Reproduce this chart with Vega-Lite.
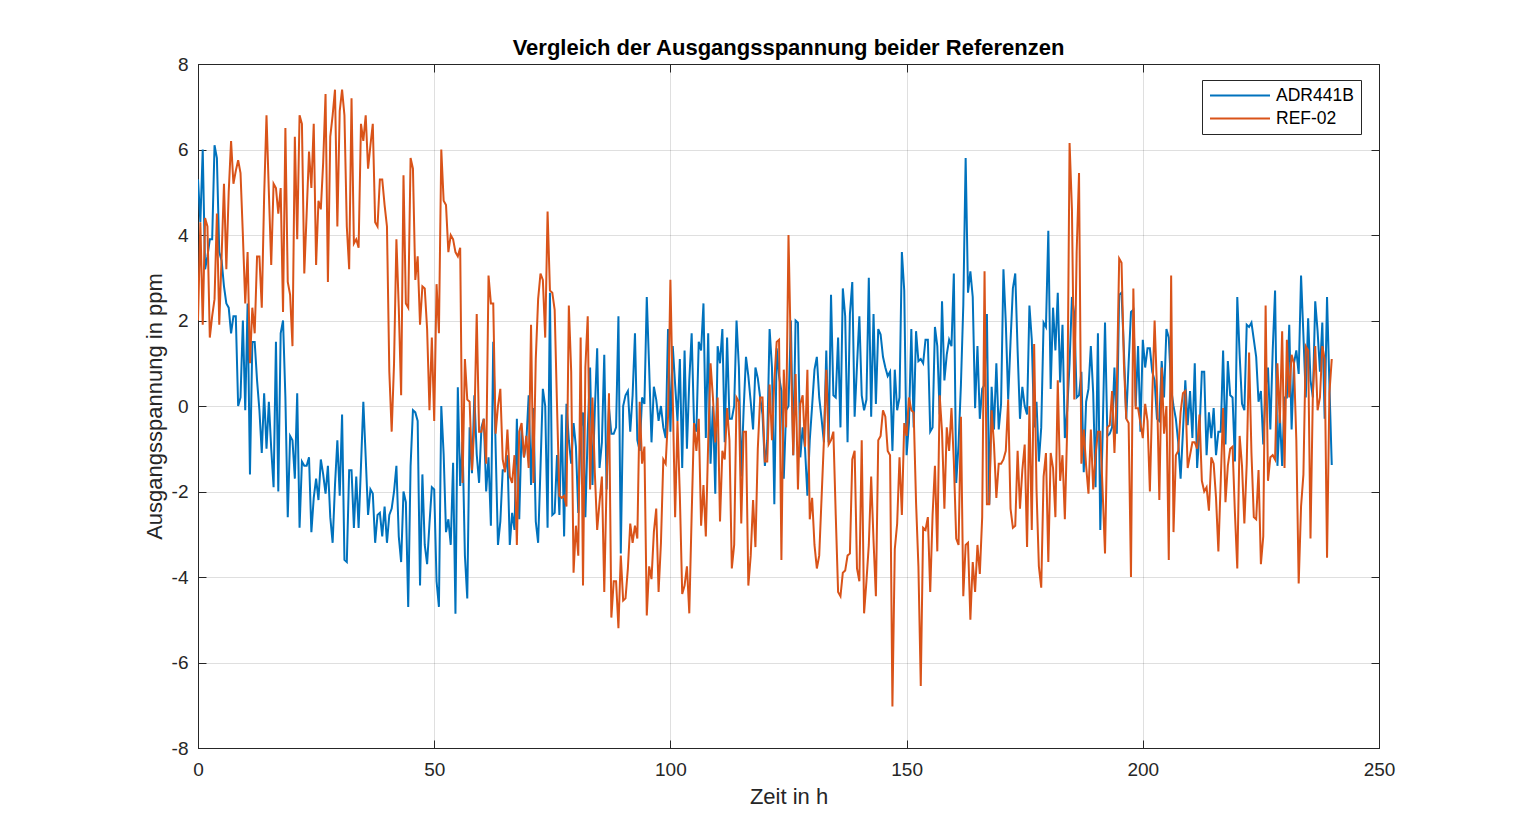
{
"$schema": "https://vega.github.io/schema/vega-lite/v6.json",
"width": 1181, "height": 684,
"autosize": {"type": "none"},
"padding": {"left": 198, "top": 64, "right": 145, "bottom": 92},
"background": "white",
"title": {"text": "Vergleich der Ausgangsspannung beider Referenzen", "font": "Liberation Sans", "fontSize": 22, "fontWeight": "bold", "color": "#000000", "offset": -5, "frame": "group", "anchor": "middle"},
"config": {"view": {"stroke": "#262626", "strokeWidth": 1}, "font": "Liberation Sans"},
"data": {"values": [
{"t":0,"ADR441B":5.3,"REF-02":2.0},{"t":0.5,"ADR441B":4.3,"REF-02":4.3},{"t":1,"ADR441B":6.0,"REF-02":1.9},{"t":1.5,"ADR441B":3.2,"REF-02":4.4},{"t":2,"ADR441B":3.5,"REF-02":4.2},{"t":2.5,"ADR441B":3.9,"REF-02":1.6},{"t":3,"ADR441B":3.9,"REF-02":2.1},{"t":3.5,"ADR441B":6.1,"REF-02":2.5},{"t":4,"ADR441B":5.8,"REF-02":4.5},{"t":4.5,"ADR441B":3.6,"REF-02":1.9},
{"t":5,"ADR441B":3.4,"REF-02":3.5},{"t":5.5,"ADR441B":2.8,"REF-02":5.2},{"t":6,"ADR441B":2.4,"REF-02":3.2},{"t":6.5,"ADR441B":2.3,"REF-02":5.0},{"t":7,"ADR441B":1.7,"REF-02":6.2},{"t":7.5,"ADR441B":2.1,"REF-02":5.2},{"t":8,"ADR441B":2.1,"REF-02":5.5},{"t":8.5,"ADR441B":0.0,"REF-02":5.75},{"t":9,"ADR441B":0.2,"REF-02":5.45},{"t":9.5,"ADR441B":2.0,"REF-02":4.0},
{"t":10,"ADR441B":-0.1,"REF-02":2.4},{"t":10.5,"ADR441B":2.4,"REF-02":3.6},{"t":11,"ADR441B":-1.6,"REF-02":1.0},{"t":11.5,"ADR441B":1.5,"REF-02":2.3},{"t":12,"ADR441B":1.5,"REF-02":1.7},{"t":12.5,"ADR441B":0.6,"REF-02":3.5},{"t":13,"ADR441B":-0.1,"REF-02":3.5},{"t":13.5,"ADR441B":-1.1,"REF-02":2.3},{"t":14,"ADR441B":0.3,"REF-02":4.9},{"t":14.5,"ADR441B":-1.0,"REF-02":6.8},
{"t":15,"ADR441B":0.1,"REF-02":5.0},{"t":15.5,"ADR441B":-1.0,"REF-02":3.3},{"t":16,"ADR441B":-1.9,"REF-02":5.2},{"t":16.5,"ADR441B":1.5,"REF-02":5.1},{"t":17,"ADR441B":-2.0,"REF-02":4.5},{"t":17.5,"ADR441B":1.7,"REF-02":5.1},{"t":18,"ADR441B":2.0,"REF-02":2.2},{"t":18.5,"ADR441B":0.2,"REF-02":6.5},{"t":19,"ADR441B":-2.6,"REF-02":2.9},{"t":19.5,"ADR441B":-0.7,"REF-02":2.6},
{"t":20,"ADR441B":-0.8,"REF-02":1.4},{"t":20.5,"ADR441B":-1.7,"REF-02":6.3},{"t":21,"ADR441B":0.3,"REF-02":3.9},{"t":21.5,"ADR441B":-2.85,"REF-02":6.8},{"t":22,"ADR441B":-1.3,"REF-02":6.6},{"t":22.5,"ADR441B":-1.4,"REF-02":3.1},{"t":23,"ADR441B":-1.4,"REF-02":4.5},{"t":23.5,"ADR441B":-1.2,"REF-02":5.95},{"t":24,"ADR441B":-2.95,"REF-02":5.1},{"t":24.5,"ADR441B":-2.15,"REF-02":6.6},
{"t":25,"ADR441B":-1.7,"REF-02":3.3},{"t":25.5,"ADR441B":-2.2,"REF-02":4.8},{"t":26,"ADR441B":-1.25,"REF-02":4.6},{"t":26.5,"ADR441B":-1.6,"REF-02":5.7},{"t":27,"ADR441B":-2.05,"REF-02":7.3},{"t":27.5,"ADR441B":-1.4,"REF-02":2.9},{"t":28,"ADR441B":-2.6,"REF-02":6.3},{"t":28.5,"ADR441B":-3.2,"REF-02":6.8},{"t":29,"ADR441B":-1.85,"REF-02":7.4},{"t":29.5,"ADR441B":-0.8,"REF-02":4.2},
{"t":30,"ADR441B":-2.1,"REF-02":6.9},{"t":30.5,"ADR441B":-0.2,"REF-02":7.4},{"t":31,"ADR441B":-3.6,"REF-02":6.8},{"t":31.5,"ADR441B":-3.65,"REF-02":4.2},{"t":32,"ADR441B":-1.5,"REF-02":3.2},{"t":32.5,"ADR441B":-1.5,"REF-02":7.2},{"t":33,"ADR441B":-2.85,"REF-02":3.8},{"t":33.5,"ADR441B":-1.65,"REF-02":3.9},{"t":34,"ADR441B":-2.85,"REF-02":3.7},{"t":34.5,"ADR441B":-1.4,"REF-02":6.6},
{"t":35,"ADR441B":0.1,"REF-02":6.2},{"t":35.5,"ADR441B":-1.2,"REF-02":6.8},{"t":36,"ADR441B":-2.55,"REF-02":5.55},{"t":36.5,"ADR441B":-1.95,"REF-02":6.1},{"t":37,"ADR441B":-2.05,"REF-02":6.6},{"t":37.5,"ADR441B":-3.2,"REF-02":4.3},{"t":38,"ADR441B":-2.55,"REF-02":4.2},{"t":38.5,"ADR441B":-2.5,"REF-02":5.3},{"t":39,"ADR441B":-3.05,"REF-02":5.3},{"t":39.5,"ADR441B":-2.35,"REF-02":4.7},
{"t":40,"ADR441B":-3.2,"REF-02":4.2},{"t":40.5,"ADR441B":-2.55,"REF-02":0.8},{"t":41,"ADR441B":-2.4,"REF-02":-0.6},{"t":41.5,"ADR441B":-2.0,"REF-02":1.0},{"t":42,"ADR441B":-1.4,"REF-02":3.9},{"t":42.5,"ADR441B":-3.05,"REF-02":2.3},{"t":43,"ADR441B":-3.65,"REF-02":0.25},{"t":43.5,"ADR441B":-2.0,"REF-02":5.4},{"t":44,"ADR441B":-2.25,"REF-02":2.4},{"t":44.5,"ADR441B":-4.7,"REF-02":2.3},
{"t":45,"ADR441B":-1.4,"REF-02":5.8},{"t":45.5,"ADR441B":-0.1,"REF-02":5.55},{"t":46,"ADR441B":-0.15,"REF-02":2.95},{"t":46.5,"ADR441B":-0.35,"REF-02":3.5},{"t":47,"ADR441B":-4.2,"REF-02":1.9},{"t":47.5,"ADR441B":-1.6,"REF-02":2.8},{"t":48,"ADR441B":-3.25,"REF-02":2.75},{"t":48.5,"ADR441B":-3.7,"REF-02":1.8},{"t":49,"ADR441B":-2.75,"REF-02":-0.1},{"t":49.5,"ADR441B":-1.9,"REF-02":1.6},
{"t":50,"ADR441B":-1.95,"REF-02":-0.35},{"t":50.5,"ADR441B":-4.1,"REF-02":2.85},{"t":51,"ADR441B":-4.7,"REF-02":1.7},{"t":51.5,"ADR441B":0.0,"REF-02":6.0},{"t":52,"ADR441B":-1.13,"REF-02":4.8},{"t":52.5,"ADR441B":-2.95,"REF-02":4.7},{"t":53,"ADR441B":-2.65,"REF-02":3.6},{"t":53.5,"ADR441B":-3.25,"REF-02":4.0},{"t":54,"ADR441B":-1.33,"REF-02":3.9},{"t":54.5,"ADR441B":-4.86,"REF-02":3.6},
{"t":55,"ADR441B":0.44,"REF-02":3.5},{"t":55.5,"ADR441B":-1.87,"REF-02":3.7},{"t":56,"ADR441B":-0.84,"REF-02":-1.8},{"t":56.5,"ADR441B":-3.5,"REF-02":1.1},{"t":57,"ADR441B":-4.5,"REF-02":0.15},{"t":57.5,"ADR441B":-0.5,"REF-02":0.1},{"t":58,"ADR441B":-1.57,"REF-02":-1.5},{"t":58.5,"ADR441B":0.25,"REF-02":-0.45},{"t":59,"ADR441B":-1.13,"REF-02":2.15},{"t":59.5,"ADR441B":-1.8,"REF-02":-0.6},
{"t":60,"ADR441B":-0.5,"REF-02":-0.6},{"t":60.5,"ADR441B":-0.3,"REF-02":-0.3},{"t":61,"ADR441B":-2.0,"REF-02":-1.35},{"t":61.5,"ADR441B":-1.2,"REF-02":3.05},{"t":62,"ADR441B":-2.8,"REF-02":2.4},{"t":62.5,"ADR441B":1.5,"REF-02":2.4},{"t":63,"ADR441B":-0.95,"REF-02":-0.65},{"t":63.5,"ADR441B":-3.25,"REF-02":0.0},{"t":64,"ADR441B":-2.7,"REF-02":0.4},{"t":64.5,"ADR441B":-1.5,"REF-02":-1.25},
{"t":65,"ADR441B":-1.5,"REF-02":-1.55},{"t":65.5,"ADR441B":-1.15,"REF-02":-0.55},{"t":66,"ADR441B":-3.25,"REF-02":-1.65},{"t":66.5,"ADR441B":-2.5,"REF-02":-1.8},{"t":67,"ADR441B":-2.9,"REF-02":-1.15},{"t":67.5,"ADR441B":-0.3,"REF-02":-3.25},{"t":68,"ADR441B":-2.65,"REF-02":-0.6},{"t":68.5,"ADR441B":-0.55,"REF-02":-0.4},{"t":69,"ADR441B":-1.2,"REF-02":-1.2},{"t":69.5,"ADR441B":-0.85,"REF-02":-0.7},
{"t":70,"ADR441B":0.25,"REF-02":-1.45},{"t":70.5,"ADR441B":-1.85,"REF-02":1.9},{"t":71,"ADR441B":-0.05,"REF-02":-1.8},{"t":71.5,"ADR441B":-2.7,"REF-02":1.1},{"t":72,"ADR441B":-3.2,"REF-02":2.5},{"t":72.5,"ADR441B":-1.45,"REF-02":3.1},{"t":73,"ADR441B":0.4,"REF-02":2.95},{"t":73.5,"ADR441B":0.0,"REF-02":1.6},{"t":74,"ADR441B":-2.85,"REF-02":4.55},{"t":74.5,"ADR441B":2.65,"REF-02":2.7},
{"t":75,"ADR441B":-2.55,"REF-02":2.65},{"t":75.5,"ADR441B":-2.5,"REF-02":2.25},{"t":76,"ADR441B":-1.15,"REF-02":0.0},{"t":76.5,"ADR441B":-2.55,"REF-02":-2.1},{"t":77,"ADR441B":-0.2,"REF-02":-2.15},{"t":77.5,"ADR441B":-3.05,"REF-02":-2.1},{"t":78,"ADR441B":0.05,"REF-02":-2.35},{"t":78.5,"ADR441B":-0.8,"REF-02":2.35},{"t":79,"ADR441B":-1.35,"REF-02":0.8},{"t":79.5,"ADR441B":-0.4,"REF-02":-3.9},
{"t":80,"ADR441B":-0.95,"REF-02":-2.8},{"t":80.5,"ADR441B":-2.5,"REF-02":-3.5},{"t":81,"ADR441B":-0.55,"REF-02":1.6},{"t":81.5,"ADR441B":-0.15,"REF-02":-4.2},{"t":82,"ADR441B":-2.6,"REF-02":0.9},{"t":82.5,"ADR441B":-0.6,"REF-02":2.1},{"t":83,"ADR441B":0.9,"REF-02":-1.95},{"t":83.5,"ADR441B":-1.85,"REF-02":0.2},{"t":84,"ADR441B":-0.1,"REF-02":-1.55},{"t":84.5,"ADR441B":1.35,"REF-02":-2.9},
{"t":85,"ADR441B":-1.45,"REF-02":-2.25},{"t":85.5,"ADR441B":-0.85,"REF-02":-1.65},{"t":86,"ADR441B":1.2,"REF-02":-4.35},{"t":86.5,"ADR441B":-1.95,"REF-02":-1.75},{"t":87,"ADR441B":-0.05,"REF-02":0.3},{"t":87.5,"ADR441B":-0.65,"REF-02":-4.95},{"t":88,"ADR441B":-0.65,"REF-02":-4.1},{"t":88.5,"ADR441B":-0.5,"REF-02":-4.1},{"t":89,"ADR441B":2.1,"REF-02":-5.2},{"t":89.5,"ADR441B":-3.45,"REF-02":-3.5},
{"t":90,"ADR441B":0.0,"REF-02":-4.55},{"t":90.5,"ADR441B":0.25,"REF-02":-4.5},{"t":91,"ADR441B":0.35,"REF-02":-3.8},{"t":91.5,"ADR441B":-0.6,"REF-02":-2.75},{"t":92,"ADR441B":0.25,"REF-02":-3.2},{"t":92.5,"ADR441B":1.7,"REF-02":-2.8},{"t":93,"ADR441B":-0.8,"REF-02":-3.1},{"t":93.5,"ADR441B":-1.05,"REF-02":0.1},{"t":94,"ADR441B":0.2,"REF-02":-1.35},{"t":94.5,"ADR441B":0.05,"REF-02":-0.95},
{"t":95,"ADR441B":2.55,"REF-02":-4.9},{"t":95.5,"ADR441B":0.9,"REF-02":-3.75},{"t":96,"ADR441B":-0.85,"REF-02":-4.05},{"t":96.5,"ADR441B":0.45,"REF-02":-2.95},{"t":97,"ADR441B":0.15,"REF-02":-2.4},{"t":97.5,"ADR441B":-0.35,"REF-02":-4.35},{"t":98,"ADR441B":0.0,"REF-02":-3.2},{"t":98.5,"ADR441B":-0.5,"REF-02":-1.25},{"t":99,"ADR441B":-0.75,"REF-02":-1.35},{"t":99.5,"ADR441B":1.8,"REF-02":-0.25},
{"t":100,"ADR441B":-0.6,"REF-02":2.95},{"t":100.5,"ADR441B":1.4,"REF-02":0.2},{"t":101,"ADR441B":0.5,"REF-02":-2.6},{"t":101.5,"ADR441B":-0.35,"REF-02":-0.35},{"t":102,"ADR441B":1.1,"REF-02":-2.1},{"t":102.5,"ADR441B":-1.45,"REF-02":-4.4},{"t":103,"ADR441B":1.3,"REF-02":-4.2},{"t":103.5,"ADR441B":-1.0,"REF-02":-3.75},{"t":104,"ADR441B":0.6,"REF-02":-4.85},{"t":104.5,"ADR441B":1.7,"REF-02":-2.55},
{"t":105,"ADR441B":-0.4,"REF-02":-0.4},{"t":105.5,"ADR441B":-0.6,"REF-02":-1.05},{"t":106,"ADR441B":1.5,"REF-02":-0.3},{"t":106.5,"ADR441B":1.3,"REF-02":-2.8},{"t":107,"ADR441B":2.4,"REF-02":-1.85},{"t":107.5,"ADR441B":-0.75,"REF-02":-3.05},{"t":108,"ADR441B":1.7,"REF-02":-0.85},{"t":108.5,"ADR441B":-1.35,"REF-02":1.0},{"t":109,"ADR441B":0.0,"REF-02":0.2},{"t":109.5,"ADR441B":-2.05,"REF-02":-0.85},
{"t":110,"ADR441B":1.4,"REF-02":0.2},{"t":110.5,"ADR441B":1.0,"REF-02":-2.7},{"t":111,"ADR441B":1.8,"REF-02":-1.05},{"t":111.5,"ADR441B":-0.85,"REF-02":-1.25},{"t":112,"ADR441B":1.6,"REF-02":-0.05},{"t":112.5,"ADR441B":-0.3,"REF-02":-0.8},{"t":113,"ADR441B":-0.3,"REF-02":-3.8},{"t":113.5,"ADR441B":0.0,"REF-02":-3.25},{"t":114,"ADR441B":2.0,"REF-02":0.2},{"t":114.5,"ADR441B":0.9,"REF-02":0.1},
{"t":115,"ADR441B":-1.65,"REF-02":-2.75},{"t":115.5,"ADR441B":-0.1,"REF-02":-0.6},{"t":116,"ADR441B":1.15,"REF-02":-0.6},{"t":116.5,"ADR441B":0.7,"REF-02":-4.2},{"t":117,"ADR441B":0.1,"REF-02":-3.5},{"t":117.5,"ADR441B":-0.55,"REF-02":-2.2},{"t":118,"ADR441B":0.9,"REF-02":-3.3},{"t":118.5,"ADR441B":0.65,"REF-02":-1.0},{"t":119,"ADR441B":0.2,"REF-02":0.2},{"t":119.5,"ADR441B":-0.2,"REF-02":0.2},
{"t":120,"ADR441B":-1.4,"REF-02":-1.3},{"t":120.5,"ADR441B":-0.8,"REF-02":-1.3},{"t":121,"ADR441B":1.8,"REF-02":0.5},{"t":121.5,"ADR441B":0.9,"REF-02":-0.8},{"t":122,"ADR441B":-2.3,"REF-02":0.6},{"t":122.5,"ADR441B":1.35,"REF-02":1.5},{"t":123,"ADR441B":0.7,"REF-02":1.55},{"t":123.5,"ADR441B":0.35,"REF-02":-3.6},{"t":124,"ADR441B":-1.7,"REF-02":0.85},{"t":124.5,"ADR441B":-0.1,"REF-02":-0.5},
{"t":125,"ADR441B":0.0,"REF-02":4.0},{"t":125.5,"ADR441B":2.0,"REF-02":1.2},{"t":126,"ADR441B":-1.15,"REF-02":-1.15},{"t":126.5,"ADR441B":2.0,"REF-02":0.75},{"t":127,"ADR441B":1.95,"REF-02":-1.95},{"t":127.5,"ADR441B":-1.2,"REF-02":0.05},{"t":128,"ADR441B":-0.5,"REF-02":0.25},{"t":128.5,"ADR441B":-1.0,"REF-02":-0.95},{"t":129,"ADR441B":-2.1,"REF-02":0.85},{"t":129.5,"ADR441B":-0.8,"REF-02":-2.65},
{"t":130,"ADR441B":0.0,"REF-02":-2.15},{"t":130.5,"ADR441B":0.85,"REF-02":-3.25},{"t":131,"ADR441B":1.15,"REF-02":-3.8},{"t":131.5,"ADR441B":0.2,"REF-02":-3.5},{"t":132,"ADR441B":-0.3,"REF-02":-2.15},{"t":132.5,"ADR441B":-0.85,"REF-02":-0.8},{"t":133,"ADR441B":1.3,"REF-02":0.85},{"t":133.5,"ADR441B":-0.85,"REF-02":-0.9},{"t":134,"ADR441B":2.6,"REF-02":-0.8},{"t":134.5,"ADR441B":0.25,"REF-02":-0.6},
{"t":135,"ADR441B":0.2,"REF-02":-2.55},{"t":135.5,"ADR441B":1.6,"REF-02":-4.35},{"t":136,"ADR441B":-0.5,"REF-02":-4.45},{"t":136.5,"ADR441B":2.75,"REF-02":-3.9},{"t":137,"ADR441B":2.1,"REF-02":-3.85},{"t":137.5,"ADR441B":-0.85,"REF-02":-3.5},{"t":138,"ADR441B":2.15,"REF-02":-3.45},{"t":138.5,"ADR441B":2.9,"REF-02":-1.25},{"t":139,"ADR441B":-0.25,"REF-02":-1.05},{"t":139.5,"ADR441B":0.95,"REF-02":-3.8},
{"t":140,"ADR441B":2.1,"REF-02":-4.1},{"t":140.5,"ADR441B":0.25,"REF-02":-0.8},{"t":141,"ADR441B":-0.1,"REF-02":-4.85},{"t":141.5,"ADR441B":0.15,"REF-02":-4.1},{"t":142,"ADR441B":3.0,"REF-02":-3.25},{"t":142.5,"ADR441B":-0.25,"REF-02":-1.65},{"t":143,"ADR441B":2.15,"REF-02":-3.15},{"t":143.5,"ADR441B":0.05,"REF-02":-4.45},{"t":144,"ADR441B":1.8,"REF-02":-0.8},{"t":144.5,"ADR441B":1.67,"REF-02":-0.7},
{"t":145,"ADR441B":1.15,"REF-02":-0.1},{"t":145.5,"ADR441B":0.9,"REF-02":-0.25},{"t":146,"ADR441B":0.7,"REF-02":-1.05},{"t":146.5,"ADR441B":0.8,"REF-02":-1.15},{"t":147,"ADR441B":-1.05,"REF-02":-7.03},{"t":147.5,"ADR441B":0.85,"REF-02":-3.35},{"t":148,"ADR441B":-0.1,"REF-02":-2.75},{"t":148.5,"ADR441B":0.2,"REF-02":-1.2},{"t":149,"ADR441B":3.6,"REF-02":-2.55},{"t":149.5,"ADR441B":2.7,"REF-02":-0.4},
{"t":150,"ADR441B":-1.15,"REF-02":-0.7},{"t":150.5,"ADR441B":-0.4,"REF-02":0.2},{"t":151,"ADR441B":1.8,"REF-02":-0.1},{"t":151.5,"ADR441B":-0.5,"REF-02":-0.15},{"t":152,"ADR441B":1.75,"REF-02":-2.25},{"t":152.5,"ADR441B":1.05,"REF-02":-3.75},{"t":153,"ADR441B":1.1,"REF-02":-6.55},{"t":153.5,"ADR441B":1.0,"REF-02":-2.85},{"t":154,"ADR441B":1.55,"REF-02":-2.9},{"t":154.5,"ADR441B":1.55,"REF-02":-2.6},
{"t":155,"ADR441B":-0.6,"REF-02":-4.35},{"t":155.5,"ADR441B":-0.5,"REF-02":-2.55},{"t":156,"ADR441B":1.85,"REF-02":-1.4},{"t":156.5,"ADR441B":1.4,"REF-02":-3.4},{"t":157,"ADR441B":-0.2,"REF-02":0.25},{"t":157.5,"ADR441B":2.45,"REF-02":-0.6},{"t":158,"ADR441B":0.6,"REF-02":-2.4},{"t":158.5,"ADR441B":1.2,"REF-02":-0.5},{"t":159,"ADR441B":1.55,"REF-02":-1.05},{"t":159.5,"ADR441B":1.4,"REF-02":-0.05},
{"t":160,"ADR441B":3.1,"REF-02":-1.3},{"t":160.5,"ADR441B":-1.8,"REF-02":-3.1},{"t":161,"ADR441B":-0.9,"REF-02":-3.25},{"t":161.5,"ADR441B":0.5,"REF-02":-0.25},{"t":162,"ADR441B":2.35,"REF-02":-4.45},{"t":162.5,"ADR441B":5.8,"REF-02":-3.25},{"t":163,"ADR441B":2.65,"REF-02":-3.2},{"t":163.5,"ADR441B":3.15,"REF-02":-5.0},{"t":164,"ADR441B":2.55,"REF-02":-3.65},{"t":164.5,"ADR441B":-0.05,"REF-02":-4.35},
{"t":165,"ADR441B":1.4,"REF-02":-3.25},{"t":165.5,"ADR441B":-0.3,"REF-02":-3.93},{"t":166,"ADR441B":0.4,"REF-02":-2.6},{"t":166.5,"ADR441B":0.5,"REF-02":3.15},{"t":167,"ADR441B":2.15,"REF-02":-2.3},{"t":167.5,"ADR441B":-2.3,"REF-02":-2.3},{"t":168,"ADR441B":0.45,"REF-02":-0.1},{"t":168.5,"ADR441B":-0.55,"REF-02":-0.9},{"t":169,"ADR441B":1.0,"REF-02":-2.15},{"t":169.5,"ADR441B":-0.55,"REF-02":-1.35},
{"t":170,"ADR441B":0.05,"REF-02":-1.35},{"t":170.5,"ADR441B":3.2,"REF-02":-1.25},{"t":171,"ADR441B":1.95,"REF-02":-1.05},{"t":171.5,"ADR441B":0.15,"REF-02":0.15},{"t":172,"ADR441B":1.5,"REF-02":-2.4},{"t":172.5,"ADR441B":2.75,"REF-02":-2.85},{"t":173,"ADR441B":3.1,"REF-02":-2.8},{"t":173.5,"ADR441B":1.3,"REF-02":-1.05},{"t":174,"ADR441B":-0.3,"REF-02":-2.4},{"t":174.5,"ADR441B":0.45,"REF-02":-1.5},
{"t":175,"ADR441B":0.0,"REF-02":-0.9},{"t":175.5,"ADR441B":-0.2,"REF-02":-3.3},{"t":176,"ADR441B":2.35,"REF-02":0.0},{"t":176.5,"ADR441B":1.55,"REF-02":-2.9},{"t":177,"ADR441B":-0.5,"REF-02":1.45},{"t":177.5,"ADR441B":0.1,"REF-02":-1.95},{"t":178,"ADR441B":-1.3,"REF-02":-3.75},{"t":178.5,"ADR441B":-0.5,"REF-02":-4.25},{"t":179,"ADR441B":1.95,"REF-02":-1.65},{"t":179.5,"ADR441B":1.85,"REF-02":-1.1},
{"t":180,"ADR441B":4.1,"REF-02":-3.65},{"t":180.5,"ADR441B":0.4,"REF-02":-1.1},{"t":181,"ADR441B":2.3,"REF-02":-1.45},{"t":181.5,"ADR441B":1.3,"REF-02":-2.6},{"t":182,"ADR441B":2.65,"REF-02":0.6},{"t":182.5,"ADR441B":0.55,"REF-02":-1.75},{"t":183,"ADR441B":1.9,"REF-02":-1.15},{"t":183.5,"ADR441B":-0.75,"REF-02":-2.65},{"t":184,"ADR441B":-0.1,"REF-02":-0.5},{"t":184.5,"ADR441B":1.0,"REF-02":6.15},
{"t":185,"ADR441B":2.55,"REF-02":4.6},{"t":185.5,"ADR441B":2.15,"REF-02":0.15},{"t":186,"ADR441B":0.2,"REF-02":3.6},{"t":186.5,"ADR441B":0.25,"REF-02":5.45},{"t":187,"ADR441B":0.8,"REF-02":-1.35},{"t":187.5,"ADR441B":-1.55,"REF-02":-0.55},{"t":188,"ADR441B":0.1,"REF-02":-1.4},{"t":188.5,"ADR441B":0.4,"REF-02":-2.05},{"t":189,"ADR441B":1.4,"REF-02":-0.55},{"t":189.5,"ADR441B":0.3,"REF-02":-1.95},
{"t":190,"ADR441B":-1.9,"REF-02":-1.15},{"t":190.5,"ADR441B":1.7,"REF-02":-0.6},{"t":191,"ADR441B":-2.9,"REF-02":-0.6},{"t":191.5,"ADR441B":-0.65,"REF-02":-2.0},{"t":192,"ADR441B":1.95,"REF-02":-3.45},{"t":192.5,"ADR441B":-0.7,"REF-02":-0.5},{"t":193,"ADR441B":-0.65,"REF-02":-0.45},{"t":193.5,"ADR441B":-0.5,"REF-02":0.35},{"t":194,"ADR441B":0.9,"REF-02":-1.1},{"t":194.5,"ADR441B":-0.65,"REF-02":0.4},
{"t":195,"ADR441B":2.6,"REF-02":3.45},{"t":195.5,"ADR441B":2.65,"REF-02":3.35},{"t":196,"ADR441B":1.3,"REF-02":1.0},{"t":196.5,"ADR441B":-0.3,"REF-02":-0.3},{"t":197,"ADR441B":1.0,"REF-02":-0.4},{"t":197.5,"ADR441B":2.2,"REF-02":-4.0},{"t":198,"ADR441B":2.25,"REF-02":2.75},{"t":198.5,"ADR441B":0.0,"REF-02":-0.05},{"t":199,"ADR441B":1.4,"REF-02":-0.05},{"t":199.5,"ADR441B":-0.6,"REF-02":-0.4},
{"t":200,"ADR441B":1.55,"REF-02":-0.75},{"t":200.5,"ADR441B":0.9,"REF-02":0.05},{"t":201,"ADR441B":1.35,"REF-02":-0.35},{"t":201.5,"ADR441B":1.35,"REF-02":-2.0},{"t":202,"ADR441B":0.8,"REF-02":0.2},{"t":202.5,"ADR441B":0.6,"REF-02":2.0},{"t":203,"ADR441B":-0.3,"REF-02":0.4},{"t":203.5,"ADR441B":-0.35,"REF-02":-2.2},{"t":204,"ADR441B":1.05,"REF-02":0.9},{"t":204.5,"ADR441B":0.2,"REF-02":-0.65},
{"t":205,"ADR441B":1.8,"REF-02":0.0},{"t":205.5,"ADR441B":1.6,"REF-02":-3.6},{"t":206,"ADR441B":0.4,"REF-02":3.05},{"t":206.5,"ADR441B":0.0,"REF-02":-2.95},{"t":207,"ADR441B":-0.3,"REF-02":-1.15},{"t":207.5,"ADR441B":-0.85,"REF-02":-1.05},{"t":208,"ADR441B":-1.7,"REF-02":-0.15},{"t":208.5,"ADR441B":-0.6,"REF-02":0.3},{"t":209,"ADR441B":0.6,"REF-02":0.35},{"t":209.5,"ADR441B":-0.45,"REF-02":-1.45},
{"t":210,"ADR441B":0.35,"REF-02":-1.15},{"t":210.5,"ADR441B":-0.75,"REF-02":-0.85},{"t":211,"ADR441B":1.0,"REF-02":-0.85},{"t":211.5,"ADR441B":-1.45,"REF-02":-1.0},{"t":212,"ADR441B":-0.6,"REF-02":-0.2},{"t":212.5,"ADR441B":0.8,"REF-02":-1.75},{"t":213,"ADR441B":0.8,"REF-02":-2.0},{"t":213.5,"ADR441B":-1.15,"REF-02":-1.9},{"t":214,"ADR441B":-0.15,"REF-02":-2.45},{"t":214.5,"ADR441B":-0.75,"REF-02":-1.2},
{"t":215,"ADR441B":-0.05,"REF-02":-1.35},{"t":215.5,"ADR441B":-1.15,"REF-02":-2.15},{"t":216,"ADR441B":-0.6,"REF-02":-3.4},{"t":216.5,"ADR441B":-0.6,"REF-02":-1.75},{"t":217,"ADR441B":1.3,"REF-02":-0.05},{"t":217.5,"ADR441B":-0.9,"REF-02":-2.25},{"t":218,"ADR441B":1.05,"REF-02":-1.4},{"t":218.5,"ADR441B":0.25,"REF-02":-1.0},{"t":219,"ADR441B":0.2,"REF-02":-0.95},{"t":219.5,"ADR441B":-1.3,"REF-02":-2.5},
{"t":220,"ADR441B":2.55,"REF-02":-3.8},{"t":220.5,"ADR441B":1.2,"REF-02":-0.7},{"t":221,"ADR441B":0.05,"REF-02":-1.4},{"t":221.5,"ADR441B":-0.1,"REF-02":-2.75},{"t":222,"ADR441B":1.9,"REF-02":-1.35},{"t":222.5,"ADR441B":1.85,"REF-02":1.25},{"t":223,"ADR441B":1.95,"REF-02":-1.1},{"t":223.5,"ADR441B":1.55,"REF-02":-2.6},{"t":224,"ADR441B":1.15,"REF-02":-2.65},{"t":224.5,"ADR441B":0.1,"REF-02":-1.5},
{"t":225,"ADR441B":0.35,"REF-02":-3.7},{"t":225.5,"ADR441B":-0.9,"REF-02":-3.05},{"t":226,"ADR441B":0.4,"REF-02":2.35},{"t":226.5,"ADR441B":0.9,"REF-02":-1.75},{"t":227,"ADR441B":-0.55,"REF-02":-1.2},{"t":227.5,"ADR441B":1.3,"REF-02":-1.15},{"t":228,"ADR441B":2.7,"REF-02":-1.25},{"t":228.5,"ADR441B":-1.4,"REF-02":1.0},{"t":229,"ADR441B":-0.2,"REF-02":-0.4},{"t":229.5,"ADR441B":-1.4,"REF-02":1.75},
{"t":230,"ADR441B":0.2,"REF-02":-1.45},{"t":230.5,"ADR441B":0.2,"REF-02":1.55},{"t":231,"ADR441B":1.9,"REF-02":0.2},{"t":231.5,"ADR441B":-0.55,"REF-02":1.2},{"t":232,"ADR441B":1.0,"REF-02":1.0},{"t":232.5,"ADR441B":1.3,"REF-02":-0.8},{"t":233,"ADR441B":0.75,"REF-02":-4.15},{"t":233.5,"ADR441B":3.05,"REF-02":-2.35},{"t":234,"ADR441B":1.65,"REF-02":-1.6},{"t":234.5,"ADR441B":0.2,"REF-02":1.4},
{"t":235,"ADR441B":2.05,"REF-02":1.3},{"t":235.5,"ADR441B":0.6,"REF-02":-3.1},{"t":236,"ADR441B":0.2,"REF-02":0.3},{"t":236.5,"ADR441B":2.45,"REF-02":1.4},{"t":237,"ADR441B":1.75,"REF-02":-0.1},{"t":237.5,"ADR441B":0.8,"REF-02":0.2},{"t":238,"ADR441B":1.95,"REF-02":1.4},{"t":238.5,"ADR441B":-0.3,"REF-02":1.1},{"t":239,"ADR441B":2.55,"REF-02":-3.55},{"t":239.5,"ADR441B":0.5,"REF-02":0.3},
{"t":240,"ADR441B":-1.38,"REF-02":1.1}
]},
"transform": [{"fold": ["ADR441B", "REF-02"], "as": ["Serie", "Wert"]}],
"layer": [
{
"mark": {"type": "line", "strokeWidth": 2, "interpolate": "linear", "clip": true},
"encoding": {
  "x": {"field": "t", "type": "quantitative",
        "scale": {"domain": [0, 250], "nice": false, "zero": false},
        "axis": {"values": [0, 50, 100, 150, 200, 250], "title": "Zeit in h", "grid": true, "labelFlush": false,
                 "labelExpr": "toString(datum.value)",
                 "gridColor": "#262626", "gridOpacity": 0.15, "gridWidth": 1,
                 "domainColor": "#262626", "tickColor": "#262626", "tickSize": -8, "labelPadding": 20,
                 "labelColor": "#262626", "labelFontSize": 19, "labelFont": "Liberation Sans",
                 "titleColor": "#262626", "titleFontSize": 22, "titleFontWeight": "normal", "titleFont": "Liberation Sans", "titlePadding": 7}},
  "y": {"field": "Wert", "type": "quantitative",
        "scale": {"domain": [-8, 8], "nice": false},
        "axis": {"values": [-8, -6, -4, -2, 0, 2, 4, 6, 8], "title": "Ausgangsspannung in ppm", "grid": true, "labelFlush": false,
                 "labelExpr": "toString(datum.value)",
                 "gridColor": "#262626", "gridOpacity": 0.15, "gridWidth": 1,
                 "domainColor": "#262626", "tickColor": "#262626", "tickSize": -8, "labelPadding": 18,
                 "labelColor": "#262626", "labelFontSize": 19, "labelFont": "Liberation Sans",
                 "titleColor": "#262626", "titleFontSize": 22, "titleFontWeight": "normal", "titleFont": "Liberation Sans", "titlePadding": 5}},
  "color": {"field": "Serie", "type": "nominal",
            "scale": {"domain": ["ADR441B", "REF-02"], "range": ["#0072BD", "#D95319"]},
            "legend": {"title": null, "orient": "none", "legendX": 1004, "legendY": 16,
                       "symbolType": "stroke", "symbolSize": 3600, "symbolStrokeWidth": 2, "clipHeight": 17,
                       "labelFontSize": 17.5, "labelFont": "Liberation Sans", "labelColor": "#000000",
                       "strokeColor": "#262626", "fillColor": "#ffffff", "padding": 7, "rowPadding": 5, "labelOffset": 5, "cornerRadius": 0}}
}
},
{
"mark": {"type": "line", "strokeOpacity": 0, "clip": true},
"encoding": {
  "x": {"field": "t", "type": "quantitative",
        "axis": {"orient": "top", "values": [0, 50, 100, 150, 200, 250], "title": null, "labels": false, "grid": false, "domain": false,
                 "tickColor": "#262626", "tickSize": -8}},
  "y": {"field": "Wert", "type": "quantitative",
        "axis": {"orient": "right", "values": [-8, -6, -4, -2, 0, 2, 4, 6, 8], "title": null, "labels": false, "grid": false, "domain": false,
                 "tickColor": "#262626", "tickSize": -8}},
  "detail": {"field": "Serie", "type": "nominal"}
}
}
],
"resolve": {"axis": {"x": "independent", "y": "independent"}}
}
